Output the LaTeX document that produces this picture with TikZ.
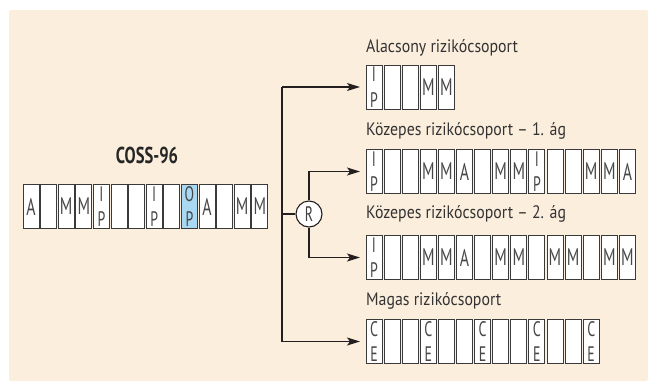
\documentclass[tikz,border=0pt]{standalone}
\usepackage{fontspec}
\setmainfont{PT Sans}
\newfontfamily\lblfont[FakeStretch=0.88]{PT Sans}
\newfontfamily\cellfont[FakeStretch=0.66]{PT Sans}
\newfontfamily\ttlfont[FakeStretch=0.72]{PT Sans}
\usetikzlibrary{arrows.meta}
\definecolor{bgc}{HTML}{FCEEDD}
\definecolor{hl}{HTML}{A9D9F2}
\definecolor{cellline}{HTML}{3A3A3A}
\definecolor{ink}{HTML}{231F20}
\newcommand\stk[2]{{\fontsize{21pt}{24pt}\selectfont\vbox to 40pt{\hbox to 14pt{\hss#1\hss}\vfil\hbox to 14pt{\hss#2\hss}}}}
\newcommand\IP{\stk{I}{P}}
\newcommand\OP{\stk{O}{P}}
\newcommand\CE{\stk{C}{E}}
\tikzset{
  cellbox/.style={draw=cellline, line width=0.9pt, minimum width=16pt, minimum height=44pt,
    inner sep=0pt, outer sep=0pt, text=black!72, font=\cellfont\fontsize{24pt}{26pt}\selectfont},
  grplabel/.style={anchor=base west, inner sep=0pt, text=black!80, font=\lblfont\fontsize{18pt}{21pt}\selectfont},
  conn/.style={draw=ink, line width=1.3pt},
  arr/.style={conn, -{Stealth[length=13pt,width=8pt,inset=3pt]}, shorten >=6pt},
  rnode/.style={circle, draw=ink, line width=1.1pt, fill=white, minimum size=26pt, inner sep=0pt,
    text=black!75, font=\cellfont\fontsize{21pt}{24pt}\selectfont}
}
\begin{document}
\begin{tikzpicture}[x=1pt,y=-1pt]
\useasboundingbox (0,0) rectangle (648,391);
\fill[bgc, rounded corners=2pt] (9,10) rectangle (648,381);

% title
\node[font=\ttlfont\bfseries\fontsize{23pt}{26pt}\selectfont, text=black!85, inner sep=0pt] (title) at (147,155) {COSS-96};

% main row
\foreach \c/\f [count=\i from 0] in {A/white,{}/white,M/white,M/white,\IP/white,{}/white,{}/white,\IP/white,{}/white,\OP/hl,A/white,{}/white,M/white,M/white}
  \node[cellbox, fill=\f] (m\i) at ({31+\i*17.6},206.5) {\c};

% right rows
\node[grplabel] (la) at (366,52.7) {Alacsony rizikócsoport};
\foreach \c [count=\i from 0] in {\IP,{},{},M,M}
  \node[cellbox, fill=white] (a\i) at ({374+\i*18.1},87) {\c};

\node[grplabel] (lk1) at (366,135.5) {Közepes rizikócsoport – 1. ág};
\foreach \c [count=\i from 0] in {\IP,{},{},M,M,A,{},M,M,\IP,{},{},M,M,A}
  \node[cellbox, fill=white] (k\i) at ({374+\i*18.1},171.5) {\c};

\node[grplabel] (lk2) at (366,218.5) {Közepes rizikócsoport – 2. ág};
\foreach \c [count=\i from 0] in {\IP,{},{},M,M,A,{},M,M,{},M,M,{},M,M}
  \node[cellbox, fill=white] (q\i) at ({374+\i*18.1},257.5) {\c};

\node[grplabel] (lh) at (366,305) {Magas rizikócsoport};
\foreach \c [count=\i from 0] in {\CE,{},{},\CE,{},{},\CE,{},{},\CE,{},{},\CE}
  \node[cellbox, fill=white] (h\i) at ({374+\i*18.1},341.5) {\c};

% connectors
\coordinate (vtop) at (282,87);
\coordinate (vbot) at (282,341.5);
\node[rnode] (R) at (309,214) {R};
\draw[conn] (vtop) -- (vbot);
\draw[conn] (R.west) -- (R.west -| vtop);
\draw[arr] (vtop) -- (a0.west);
\draw[arr] (vbot) -- (h0.west);
\draw[arr] (R.north) |- (k0.west);
\draw[arr] (R.south) |- (q0.west);
\end{tikzpicture}
\end{document}
